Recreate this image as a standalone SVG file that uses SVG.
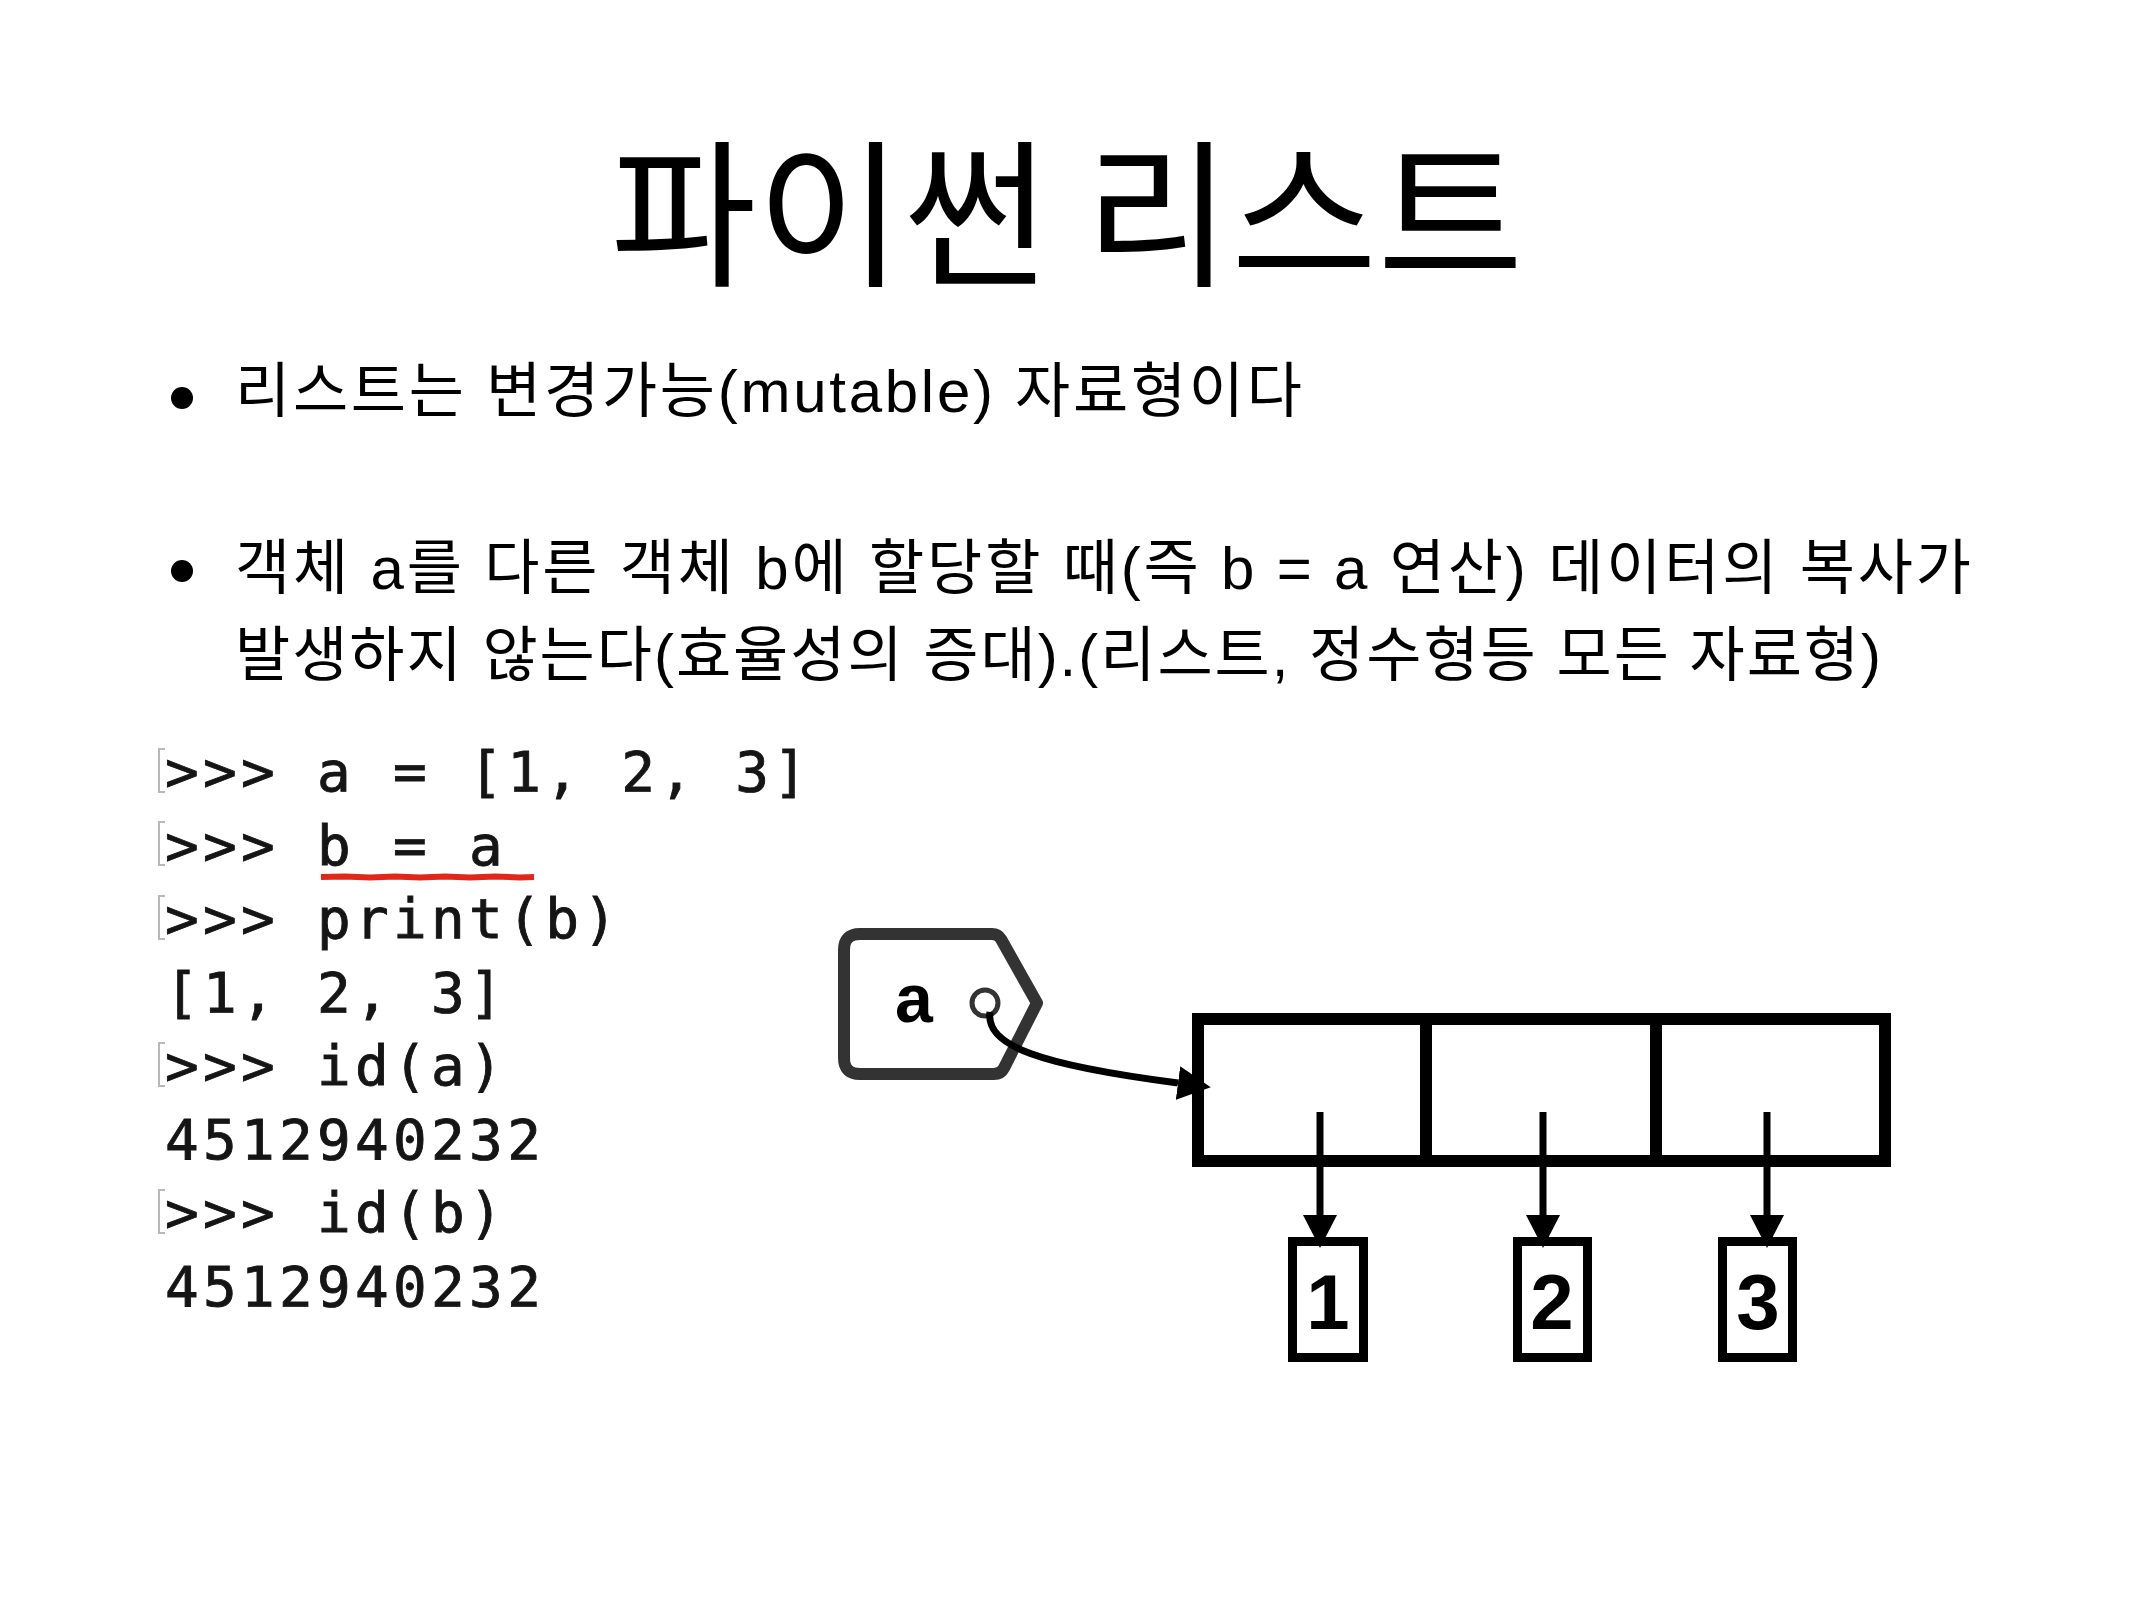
<svg xmlns="http://www.w3.org/2000/svg" width="2134" height="1600" viewBox="0 0 2134 1600">
  <defs>
    <style>
      .title { font-family: "Noto Sans CJK KR", "Liberation Sans", sans-serif; font-size: 159px; fill: #000; }
      .body { font-family: "Liberation Sans", "Noto Sans CJK KR", sans-serif; font-size: 60px; fill: #000; }
      .code { font-family: "DejaVu Sans Mono", "Liberation Mono", monospace; font-size: 56px; letter-spacing: 4.3px; fill: #151515; stroke: #151515; stroke-width: 0.9; }
      .mark { fill: none; stroke: #b8b8b8; stroke-width: 2; }
      .tag { fill: #fff; stroke: #333; stroke-width: 12; stroke-linejoin: round; }
      .cell { fill: #fff; stroke: #000; stroke-width: 12; }
      .divider { stroke: #000; stroke-width: 12; }
      .valbox { fill: #fff; stroke: #000; stroke-width: 9; }
      .num { font-family: "Liberation Sans", Arial, sans-serif; font-weight: bold; font-size: 78px; fill: #000; text-anchor: middle; }
      .conn { fill: none; stroke: #000; stroke-width: 7; }
    </style>
    <marker id="arrow" markerUnits="userSpaceOnUse" markerWidth="34" markerHeight="34" refX="0" refY="17" orient="auto">
      <path d="M0,0 L33,17 L0,34 Z" fill="#000"/>
    </marker>
  </defs>

  <rect x="0" y="0" width="2134" height="1600" fill="#fff"/>

  <g id="title">
    <text class="title" x="1067" y="274" text-anchor="middle">파이썬 리스트</text>
  </g>

  <g id="bullets">
    <circle cx="182" cy="398" r="11" fill="#000"/>
    <text class="body" x="235" y="412" textLength="1067" lengthAdjust="spacing">리스트는 변경가능(mutable) 자료형이다</text>
    <circle cx="182" cy="571" r="11" fill="#000"/>
    <text class="body" x="235" y="589" textLength="1736" lengthAdjust="spacing">객체 a를 다른 객체 b에 할당할 때(즉 b = a 연산) 데이터의 복사가</text>
    <text class="body" x="235" y="676" textLength="1646" lengthAdjust="spacing">발생하지 않는다(효율성의 증대).(리스트, 정수형등 모든 자료형)</text>
  </g>

  <g id="code">
    <path class="mark" d="M165,749 H159 V792 H165"/>
    <path class="mark" d="M165,822 H159 V865 H165"/>
    <path class="mark" d="M165,896 H159 V939 H165"/>
    <path class="mark" d="M165,1043 H159 V1086 H165"/>
    <path class="mark" d="M165,1190 H159 V1233 H165"/>
    <text class="code" x="165" y="791">&gt;&gt;&gt; a = [1, 2, 3]</text>
    <text class="code" x="165" y="864.5">&gt;&gt;&gt; b = a</text>
    <text class="code" x="165" y="938">&gt;&gt;&gt; print(b)</text>
    <text class="code" x="165" y="1011.5">[1, 2, 3]</text>
    <text class="code" x="165" y="1085">&gt;&gt;&gt; id(a)</text>
    <text class="code" x="165" y="1158.5">4512940232</text>
    <text class="code" x="165" y="1232">&gt;&gt;&gt; id(b)</text>
    <text class="code" x="165" y="1305.5">4512940232</text>
    <path d="M321,877 L345,876.5 L370,877.5 L395,876.5 L420,877.5 L445,876.5 L470,877.5 L495,876.5 L520,877.5 L534,877" fill="none" stroke="#e0281a" stroke-width="6"/>
  </g>

  <g id="tag-a">
    <path class="tag" d="M860,934 L992,934 Q998,934 1001,939 L1037,1003 L1004,1068 Q1001,1074 994,1074 L860,1074 Q844,1074 844,1058 L844,950 Q844,934 860,934 Z"/>
    <text x="914" y="1022" text-anchor="middle" font-family="Liberation Sans, Arial, sans-serif" font-weight="bold" font-size="68" fill="#000">a</text>
    <circle cx="985" cy="1003" r="13" fill="none" stroke="#333" stroke-width="5"/>
  </g>

  <g id="list">
    <rect class="cell" x="1198" y="1019" width="687" height="142"/>
    <line class="divider" x1="1426" y1="1019" x2="1426" y2="1161"/>
    <line class="divider" x1="1656" y1="1019" x2="1656" y2="1161"/>
  </g>

  <g id="value-1">
    <rect class="valbox" x="1292.5" y="1241.5" width="71" height="116"/>
    <text class="num" x="1328" y="1329">1</text>
  </g>
  <g id="value-2">
    <rect class="valbox" x="1517.5" y="1241.5" width="70" height="116"/>
    <text class="num" x="1552" y="1329">2</text>
  </g>
  <g id="value-3">
    <rect class="valbox" x="1722.5" y="1241.5" width="70" height="116"/>
    <text class="num" x="1758" y="1329">3</text>
  </g>

  <g id="connectors">
    <path class="conn" d="M990,1012 C985,1046 1040,1065 1178,1083" marker-end="url(#arrow)"/>
    <path class="conn" d="M1320,1112 V1215" marker-end="url(#arrow)"/>
    <path class="conn" d="M1543,1112 V1215" marker-end="url(#arrow)"/>
    <path class="conn" d="M1767,1112 V1215" marker-end="url(#arrow)"/>
  </g>
</svg>
